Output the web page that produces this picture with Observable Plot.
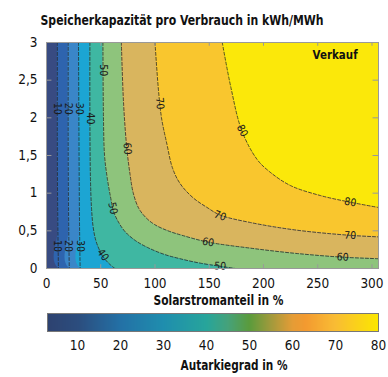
<!DOCTYPE html>
<html><head><meta charset="utf-8">
<script src="https://cdn.jsdelivr.net/npm/d3@7"></script>
<script src="https://cdn.jsdelivr.net/npm/@observablehq/plot@0.6"></script>
<style>
body{margin:0;background:#fff;width:388px;height:377px;overflow:hidden}
#chart svg{display:block}
</style></head><body><div id="chart"></div>
<script>
const FONT = "'Liberation Sans Narrow','DejaVu Sans Condensed','Arial Narrow',sans-serif";
const title = "Speicherkapazität pro Verbrauch in kWh/MWh";
const xLabel = "Solarstromanteil in %";
const cbLabel = "Autarkiegrad in %";
const cornerLabel = "Verkauf";
const xMax = 306, yMax = 3;
const xTicks = [0, 50, 100, 150, 200, 250, 300];
const yTicks = [0, 0.5, 1, 1.5, 2, 2.5, 3];
const levels = [10, 20, 30, 40, 50, 60, 70, 80];
const bandColors = ["#384b82", "#2e64ae", "#3a86c8", "#1ca5d3", "#3fb7a2", "#8ec47c", "#d9b55e", "#f9c62e", "#fbe80a"];

// contour lines [Solarstromanteil %, Speicherkapazität kWh/MWh]
const contour10 = [[10, 3], [10, 1.5], [10.5, 0.5], [11, 0]];
const contour20 = [[20, 3], [20, 1.5], [20.5, 0.5], [21, 0]];
const contour30 = [[29.5, 3], [30, 1.5], [30.5, 0.5], [31, 0]];
const contour40 = [[40, 3], [40, 2], [40.5, 1.2], [41.5, 0.8], [43, 0.55], [45.5, 0.37], [49, 0.24], [53, 0.14], [58, 0.06], [63, 0]];
const contour50 = [[52, 3], [52.5, 2], [53.5, 1.5], [56, 1.2], [59, 0.95], [62, 0.75], [67, 0.6], [73, 0.48], [82, 0.37], [93, 0.28], [108, 0.19], [123, 0.13], [142, 0.07], [160, 0.03], [174, 0]];
const contour60 = [[69, 3], [71, 2.2], [74, 1.6], [77, 1.25], [80, 1.0], [85, 0.8], [92, 0.67], [100, 0.58], [112, 0.5], [125, 0.44], [149, 0.35], [188, 0.27], [230, 0.2], [273, 0.15], [306, 0.13]];
const contour70 = [[100, 3], [103, 2.4], [106, 2.0], [111, 1.65], [116, 1.34], [123, 1.13], [135, 0.94], [148, 0.81], [160, 0.71], [188, 0.61], [230, 0.51], [280, 0.44], [306, 0.42]];
const contour80 = [[162, 3], [170, 2.4], [180, 1.83], [194, 1.45], [206, 1.28], [225, 1.1], [252, 0.97], [280, 0.88], [306, 0.81]];
const contours = [contour10, contour20, contour30, contour40, contour50, contour60, contour70, contour80];

// contour labels
const labelText = ["10", "20", "30", "40", "50", "60", "70", "80", "10", "20", "30", "40", "50", "70", "60", "50", "80", "70", "60"];
const labelX = [10, 20, 30.5, 40.5, 52, 74.5, 104.5, 180.5, 10, 20, 31, 52, 61, 160, 149, 160, 280, 280, 273];
const labelY = [2.12, 2.12, 2.12, 1.99, 2.63, 1.59, 2.19, 1.83, 0.3, 0.3, 0.3, 0.18, 0.8, 0.7, 0.35, 0.03, 0.88, 0.44, 0.15];
const labelAngle = [90, 90, 90, 90, 90, 85, 85, 62, 90, 90, 90, 55, 78, 20, 10, 3, 10, 3, 3];

// colorbar
const cbStops = [3, 10, 20, 30, 40, 45, 50, 55, 60, 63, 70, 80];
const cbColors = ["#2d4270", "#2c4d7e", "#2371a6", "#1f8eae", "#27a59b", "#46a27a", "#5b9b3c", "#a29a3c", "#e59c36", "#f39a30", "#f9bd34", "#fbe700"];
const cbTicks = [10, 20, 30, 40, 50, 60, 70, 80];

function region(pts) {
  const last = pts[pts.length - 1];
  return last[0] < xMax ? [...pts, [xMax, 0]] : pts;
}

const main = Plot.plot({
  width: 388, height: 310,
  marginTop: 42, marginBottom: 42, marginLeft: 46, marginRight: 10,
  style: {fontFamily: FONT, fontSize: "14px", color: "#111", background: "white"},
  x: {domain: [0, xMax]},
  y: {domain: [0, yMax]},
  marks: [
    Plot.frame({fill: bandColors[0]}),
    ...contours.map((c, i) => Plot.areaY(region(c), {x: d => d[0], y1: d => d[1], y2: yMax, fill: bandColors[i + 1], curve: "catmull-rom", clip: true})),
    ...contours.map(c => Plot.line(c, {x: d => d[0], y: d => d[1], stroke: "#2a2a2a", strokeWidth: 0.8, strokeDasharray: "3,2", curve: "catmull-rom", clip: true})),
    Plot.text(labelText, {x: (d, i) => labelX[i], y: (d, i) => labelY[i], rotate: (d, i) => labelAngle[i], text: d => d, fontSize: 10.5, fill: "#1a1a1a"}),
    Plot.ruleX(xTicks, {y1: 0, y2: 0.05, stroke: "#999"}),
    Plot.ruleX(xTicks, {y1: yMax - 0.05, y2: yMax, stroke: "#999"}),
    Plot.ruleY(yTicks, {x1: 0, x2: 5, stroke: "#999"}),
    Plot.ruleY(yTicks, {x1: xMax - 5, x2: xMax, stroke: "#999"}),
    Plot.frame({stroke: "#999"}),
    Plot.axisX({ticks: xTicks, tickSize: 0, tickPadding: 10, label: null, fontSize: 13.5}),
    Plot.axisY({ticks: yTicks, tickSize: 0, tickPadding: 9, label: null, fontSize: 13.5, tickFormat: d => String(d).replace(".", ",")}),
    Plot.text([xLabel], {frameAnchor: "bottom", dx: 6, dy: 36, fontWeight: "bold", fontSize: 14}),
    Plot.text([title], {frameAnchor: "top-left", dx: -6, dy: -27, textAnchor: "start", fontWeight: "bold", fontSize: 13.5}),
    Plot.text([cornerLabel], {x: 266, y: 2.83, fontWeight: "bold", fontSize: 13})
  ]
});

const bar = Plot.plot({
  width: 388, height: 67,
  marginTop: 3, marginBottom: 46, marginLeft: 47, marginRight: 10,
  style: {fontFamily: FONT, fontSize: "14px", color: "#111", background: "white"},
  x: {domain: [3, 80]},
  y: {domain: [0, 1], axis: null},
  color: {type: "linear", domain: cbStops, range: cbColors},
  marks: [
    Plot.raster({x1: 3, x2: 80, y1: 0, y2: 1, width: 331, height: 1, fill: (x, y) => x}),
    Plot.frame({stroke: "#777"}),
    Plot.axisX({ticks: cbTicks, tickSize: 0, tickPadding: 9, label: null, fontSize: 13.5}),
    Plot.text([cbLabel], {frameAnchor: "bottom", dx: 21, dy: 38, fontWeight: "bold", fontSize: 14})
  ]
});

document.getElementById("chart").append(main, bar);

// fit the condensed bold texts to the reference widths
const fits = [[title, 283], [xLabel, 130], [cbLabel, 107], [cornerLabel, 45]];
d3.selectAll("#chart text").each(function () {
  const f = fits.find(([t]) => t === this.textContent);
  if (f) d3.select(this).attr("textLength", f[1]).attr("lengthAdjust", "spacingAndGlyphs");
});
</script></body></html>
